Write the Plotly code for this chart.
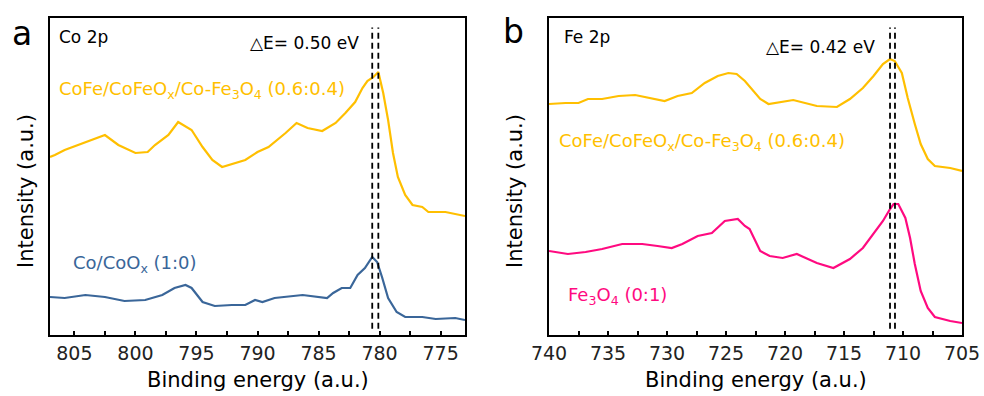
import plotly.graph_objects as go

W, H = 984, 396

# ---------------- data ----------------
# Panel a: Co 2p
co_cofe_E = [807.0, 806.6, 805.8, 804.1, 802.5, 801.4, 800.0, 799.0, 798.4, 797.3, 796.5, 795.4,
             794.5, 793.7, 792.9, 791.0, 790.0, 789.1, 787.7, 786.8, 785.9, 784.7, 783.6, 782.8,
             782.0, 781.4, 781.0, 780.5, 780.1, 779.7, 779.3, 778.9, 778.5, 777.9, 777.3, 776.5,
             776.0, 774.6, 773.2, 773.0]
co_cofe_I = [178, 180, 185, 193, 200, 190, 182, 183, 190, 200, 213, 205,
             188, 175, 168, 175, 183, 188, 202, 212, 207, 204, 212, 222,
             233, 247, 254, 258, 263, 242, 215, 182, 158, 140, 130, 128,
             123, 123, 119, 119]

co_co_E = [807.0, 805.8, 804.1, 802.5, 800.9, 799.2, 797.8, 796.8, 795.9, 795.4, 794.5, 793.5,
           792.1, 791.0, 790.2, 789.6, 788.6, 786.3, 784.3, 783.8, 783.1, 782.4, 781.8, 781.2,
           780.6, 780.2, 779.8, 779.3, 778.6, 777.9, 776.5, 775.4, 773.8, 773.0]
co_co_I = [38, 37, 40, 38, 34, 35, 40, 47, 50, 47, 33, 29,
           30, 30, 35, 33, 37, 40, 37, 42, 47, 47, 60, 67,
           78, 73, 58, 37, 23, 18, 18, 16, 17, 15]

# Panel b: Fe 2p
fe_cofe_E = [740.0, 738.6, 737.5, 736.7, 735.5, 734.1, 732.7, 731.3, 730.2, 729.1, 727.9, 726.8,
             725.7, 724.8, 724.1, 723.4, 722.7, 722.1, 721.4, 719.3, 717.3, 715.6, 714.5, 713.4,
             712.5, 711.7, 711.1, 710.7, 710.1, 709.6, 709.0, 708.5, 707.9, 707.3, 706.0, 705.0]
fe_cofe_I = [231, 232, 232, 236, 236, 239, 240, 237, 234, 239, 242, 252,
             259, 262, 261, 254, 244, 236, 231, 235, 229, 228, 236, 247,
             259, 271, 276, 274, 262, 237, 211, 191, 176, 169, 167, 164]

fe_fe3o4_E = [740.0, 738.4, 736.9, 735.5, 733.8, 732.1, 730.8, 729.6, 728.7, 727.4, 726.2, 725.1,
              724.0, 723.4, 723.0, 722.5, 722.1, 721.3, 720.2, 719.0, 717.3, 715.9, 714.5, 713.4,
              712.5, 711.7, 711.1, 710.8, 710.4, 709.8, 709.4, 709.0, 708.5, 707.9, 707.3, 706.0, 705.0]
fe_fe3o4_I = [84, 81, 83, 86, 91, 91, 89, 87, 91, 99, 102, 114,
              116, 109, 106, 94, 84, 79, 77, 81, 72, 67, 76, 87,
              101, 114, 126, 131, 131, 117, 97, 71, 44, 27, 18, 14, 12]

co_peak_lines = [780.6, 780.1]    # dashed reference lines, Co 2p
fe_peak_lines = [711.1, 710.68]   # dashed reference lines, Fe 2p

co_ticks = [805, 800, 795, 790, 785, 780, 775]
fe_ticks = [740, 735, 730, 725, 720, 715, 710, 705]

# ---------------- styling ----------------
YELLOW = "#FFBF00"
BLUE = "#3A6699"
PINK = "#FF0A80"
FONT = "DejaVu Sans"


def px(x):
    return x / W


def py(y):
    return 1 - y / H


fig = go.Figure()
fig.add_trace(go.Scatter(x=co_cofe_E, y=co_cofe_I, mode="lines",
                         line=dict(color=YELLOW, width=2.2), xaxis="x", yaxis="y"))
fig.add_trace(go.Scatter(x=co_co_E, y=co_co_I, mode="lines",
                         line=dict(color=BLUE, width=2.2), xaxis="x", yaxis="y"))
fig.add_trace(go.Scatter(x=fe_cofe_E, y=fe_cofe_I, mode="lines",
                         line=dict(color=YELLOW, width=2.2), xaxis="x2", yaxis="y2"))
fig.add_trace(go.Scatter(x=fe_fe3o4_E, y=fe_fe3o4_I, mode="lines",
                         line=dict(color=PINK, width=2.2), xaxis="x2", yaxis="y2"))

for e in co_peak_lines:
    fig.add_shape(type="line", xref="x", yref="y domain", x0=e, x1=e, y0=0.02, y1=0.97,
                  line=dict(color="black", width=1.8, dash="6px,4px"))
for e in fe_peak_lines:
    fig.add_shape(type="line", xref="x2", yref="y2 domain", x0=e, x1=e, y0=0.02, y1=0.97,
                  line=dict(color="black", width=1.8, dash="6px,4px"))

xcommon = dict(showgrid=False, zeroline=False, showline=True, linecolor="black", linewidth=2,
               mirror=True, ticks="inside", ticklen=4, tickwidth=1.5, tickcolor="black",
               automargin=False,
               tickfont=dict(family=FONT, size=19, color="#222"),
               minor=dict(ticks="inside", dtick=2.5, ticklen=4, tickwidth=1.5, tickcolor="black"))
ycommon = dict(showgrid=False, zeroline=False, showline=True, linecolor="black", linewidth=2,
               mirror=True, ticks="", showticklabels=False, automargin=False)

fig.update_layout(
    template="none",
    width=W, height=H, showlegend=False,
    margin=dict(l=0, r=0, t=0, b=0, pad=0, autoexpand=False),
    paper_bgcolor="white", plot_bgcolor="white",
    xaxis=dict(xcommon, domain=[px(50), px(465)], range=[807, 773], tickvals=co_ticks,
               anchor="y", minor=dict(xcommon["minor"], tick0=802.5)),
    yaxis=dict(ycommon, domain=[py(335), py(18)], range=[0, 317], anchor="x"),
    xaxis2=dict(xcommon, domain=[px(549), px(962)], range=[740, 705], tickvals=fe_ticks,
                anchor="y2", minor=dict(xcommon["minor"], tick0=737.5)),
    yaxis2=dict(ycommon, domain=[py(335), py(18)], range=[0, 317], anchor="x2"),
)


def ann(text, x, y, size, color="black", xanchor="center", angle=0):
    fig.add_annotation(text=text, x=px(x), y=py(y), xref="paper", yref="paper",
                       xanchor=xanchor, yanchor="middle", showarrow=False, textangle=angle,
                       font=dict(family=FONT, size=size, color=color))


ann("a", 22, 33, 33)
ann("b", 513, 31, 33)
ann("Co 2p", 57, 37, 17, xanchor="left")
ann("Fe 2p", 562, 37, 17, xanchor="left")
ann("△E= 0.50 eV", 361, 43, 17, xanchor="right")
ann("△E= 0.42 eV", 877, 47, 17, xanchor="right")
ann("CoFe/CoFeO<sub>x</sub>/Co-Fe<sub>3</sub>O<sub>4</sub> (0.6:0.4)", 57, 90, 18, YELLOW, "left")
ann("Co/CoO<sub>x</sub> (1:0)", 71, 264, 18, BLUE, "left")
ann("CoFe/CoFeO<sub>x</sub>/Co-Fe<sub>3</sub>O<sub>4</sub> (0.6:0.4)", 557, 142, 18, YELLOW, "left")
ann("Fe<sub>3</sub>O<sub>4</sub> (0:1)", 566, 296, 18, PINK, "left")
ann("Binding energy (a.u.)", 257.5, 380, 21)
ann("Binding energy (a.u.)", 756, 380, 21)
ann("Intensity (a.u.)", 26, 191, 21, angle=-90)
ann("Intensity (a.u.)", 515, 191, 21, angle=-90)

fig.write_html("out.html", config={"displayModeBar": False},
               post_script="document.body.style.margin='0px';document.body.style.overflow='hidden';")
